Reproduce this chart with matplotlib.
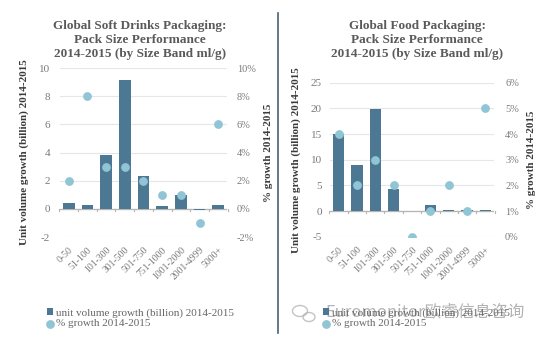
import matplotlib
matplotlib.use("Agg")
import matplotlib.pyplot as plt
from matplotlib.ticker import FuncFormatter
from matplotlib.patches import Ellipse
import numpy as np

# Size bands (ml/g)
bands = ["0-50", "51-100", "101-300", "301-500", "501-750",
         "751-1000", "1001-2000", "2001-4999", "5000+"]

# Soft drinks: unit volume growth (billion) and % growth, 2014-2015
drinks_volume = [0.4, 0.3, 3.8, 9.15, 2.3, 0.2, 1.0, -0.05, 0.25]
drinks_pct = [2, 8, 3, 3, 2, 1, 1, -1, 6]

# Food: unit volume growth (billion) and % growth, 2014-2015
food_volume = [15, 9, 19.8, 4.2, 0, 1.2, 0.2, 0.2, 0.2]
food_pct = [4, 2, 3, 2, 0, 1, 2, 1, 5]

BAR = "#4d7894"
DOT = "#8fc5d4"
GRID = "#e6e6e6"
TICK = "#7a7a7a"
LABEL = "#3a3a3a"
TITLE = "#5a5a5a"
SERIF = "Liberation Serif"

W, H = 554, 342
fig = plt.figure(figsize=(W / 100, H / 100), dpi=100)
fig.patch.set_facecolor("white")


def pct_fmt(v, _):
    return f"{v:.0f}%"


def panel(rect, title, volume, pct, vlim, vstep, plim, pstep,
          title_x, lpad, rpad, legend_xy):
    ax = fig.add_axes(rect)
    x = np.arange(len(bands))
    ax.set_xlim(-0.47, len(bands) - 0.53)
    ax.set_ylim(*vlim)
    yt = np.arange(vlim[0], vlim[1] + 0.001, vstep)
    ax.set_yticks(yt)
    for v in yt:
        ax.axhline(v, color=GRID, lw=0.8, zorder=0)
    ax.axhline(0, color="#b5b5b5", lw=0.9, zorder=1)
    # small tick marks between bands on the zero line
    for b in np.arange(-0.5, len(bands), 1.0):
        ax.plot([b, b], [0, -(vlim[1] - vlim[0]) * 0.012], color="#b5b5b5",
                lw=0.8, zorder=1, clip_on=False)
    bars = ax.bar(x, volume, width=0.62, color=BAR, zorder=2)
    for s in ax.spines.values():
        s.set_visible(False)
    ax.tick_params(axis="both", length=0, colors=TICK)
    ax.set_xticks(x)
    ax.set_xticklabels(bands, rotation=45, ha="right", va="top",
                       rotation_mode="anchor", fontsize=7, color=TICK,
                       family=SERIF)
    ax.tick_params(axis="x", pad=6)
    ax.yaxis.set_major_formatter(FuncFormatter(lambda v, _: f"{v:.0f}"))
    for lab in ax.get_yticklabels():
        lab.set_family(SERIF)
        lab.set_fontsize(8)
    ax.tick_params(axis="y", pad=lpad)
    ax.set_ylabel("Unit volume growth (billion) 2014-2015", family=SERIF,
                  fontsize=8, fontweight="bold", color=LABEL, labelpad=7)

    ax2 = ax.twinx()
    ax2.set_ylim(*plim)
    ax2.set_yticks(np.arange(plim[0], plim[1] + 0.001, pstep))
    ax2.yaxis.set_major_formatter(FuncFormatter(pct_fmt))
    for s in ax2.spines.values():
        s.set_visible(False)
    ax2.tick_params(axis="y", length=0, colors=TICK, pad=rpad)
    for lab in ax2.get_yticklabels():
        lab.set_family(SERIF)
        lab.set_fontsize(7.5)
    dots = ax2.scatter(x, pct, s=28, color=DOT, zorder=3)
    ax2.set_ylabel("% growth 2014-2015", family=SERIF, fontsize=8,
                   fontweight="bold", color=LABEL, rotation=90, labelpad=6)

    fig.text(title_x, 1 - 20 / H, title, ha="center", va="top", family=SERIF,
             fontsize=9.5, fontweight="bold", color=TITLE, linespacing=1.2)

    leg = fig.legend([bars, dots],
                     ["unit volume growth (billion) 2014-2015",
                      "% growth 2014-2015"],
                     loc="upper left",
                     bbox_to_anchor=(legend_xy[0] / W, 1 - legend_xy[1] / H),
                     frameon=False, handlelength=0.5, handleheight=0.5,
                     handletextpad=0.3, borderaxespad=0, borderpad=0,
                     labelspacing=0.15, prop={"family": SERIF, "size": 8})
    for t in leg.get_texts():
        t.set_color("#666666")
    return ax


panel([0.1083, 0.307, 0.3014, 0.494],
      "Global Soft Drinks Packaging:\nPack Size Performance\n2014-2015 (by Size Band ml/g)",
      drinks_volume, drinks_pct, (-2, 10), 2, (-2, 10), 2, 0.253,
      7, 7, (47, 308))

panel([0.5957, 0.308, 0.296, 0.450],
      "Global Food Packaging:\nPack Size Performance\n2014-2015 (by Size Band ml/g)",
      food_volume, food_pct, (-5, 25), 5, (0, 6), 1, 0.753,
      6, 8, (323, 308))

# divider between the two panels
fig.add_artist(plt.Line2D([0.502, 0.502], [0.026, 0.962], color="#4a6272",
                          lw=1.2, transform=fig.transFigure))

# source watermark: chat-bubble mark and name
for (cx, cy, w, h) in [(300, 311, 15, 11), (309, 317, 12, 9)]:
    fig.add_artist(Ellipse((cx / W, 1 - cy / H), w / W, h / H,
                           transform=fig.transFigure, fill=False,
                           ec="#b5b5b5", lw=1.0, alpha=0.8))
fig.text(325 / W, 1 - 312 / H, "Euromonitor欧睿信息咨询",
         family=["Noto Sans CJK SC", "DejaVu Sans"], fontsize=12,
         color="#9a9a9a", alpha=0.75, ha="left", va="center")

fig.savefig("out.png", dpi=100, facecolor="white")
